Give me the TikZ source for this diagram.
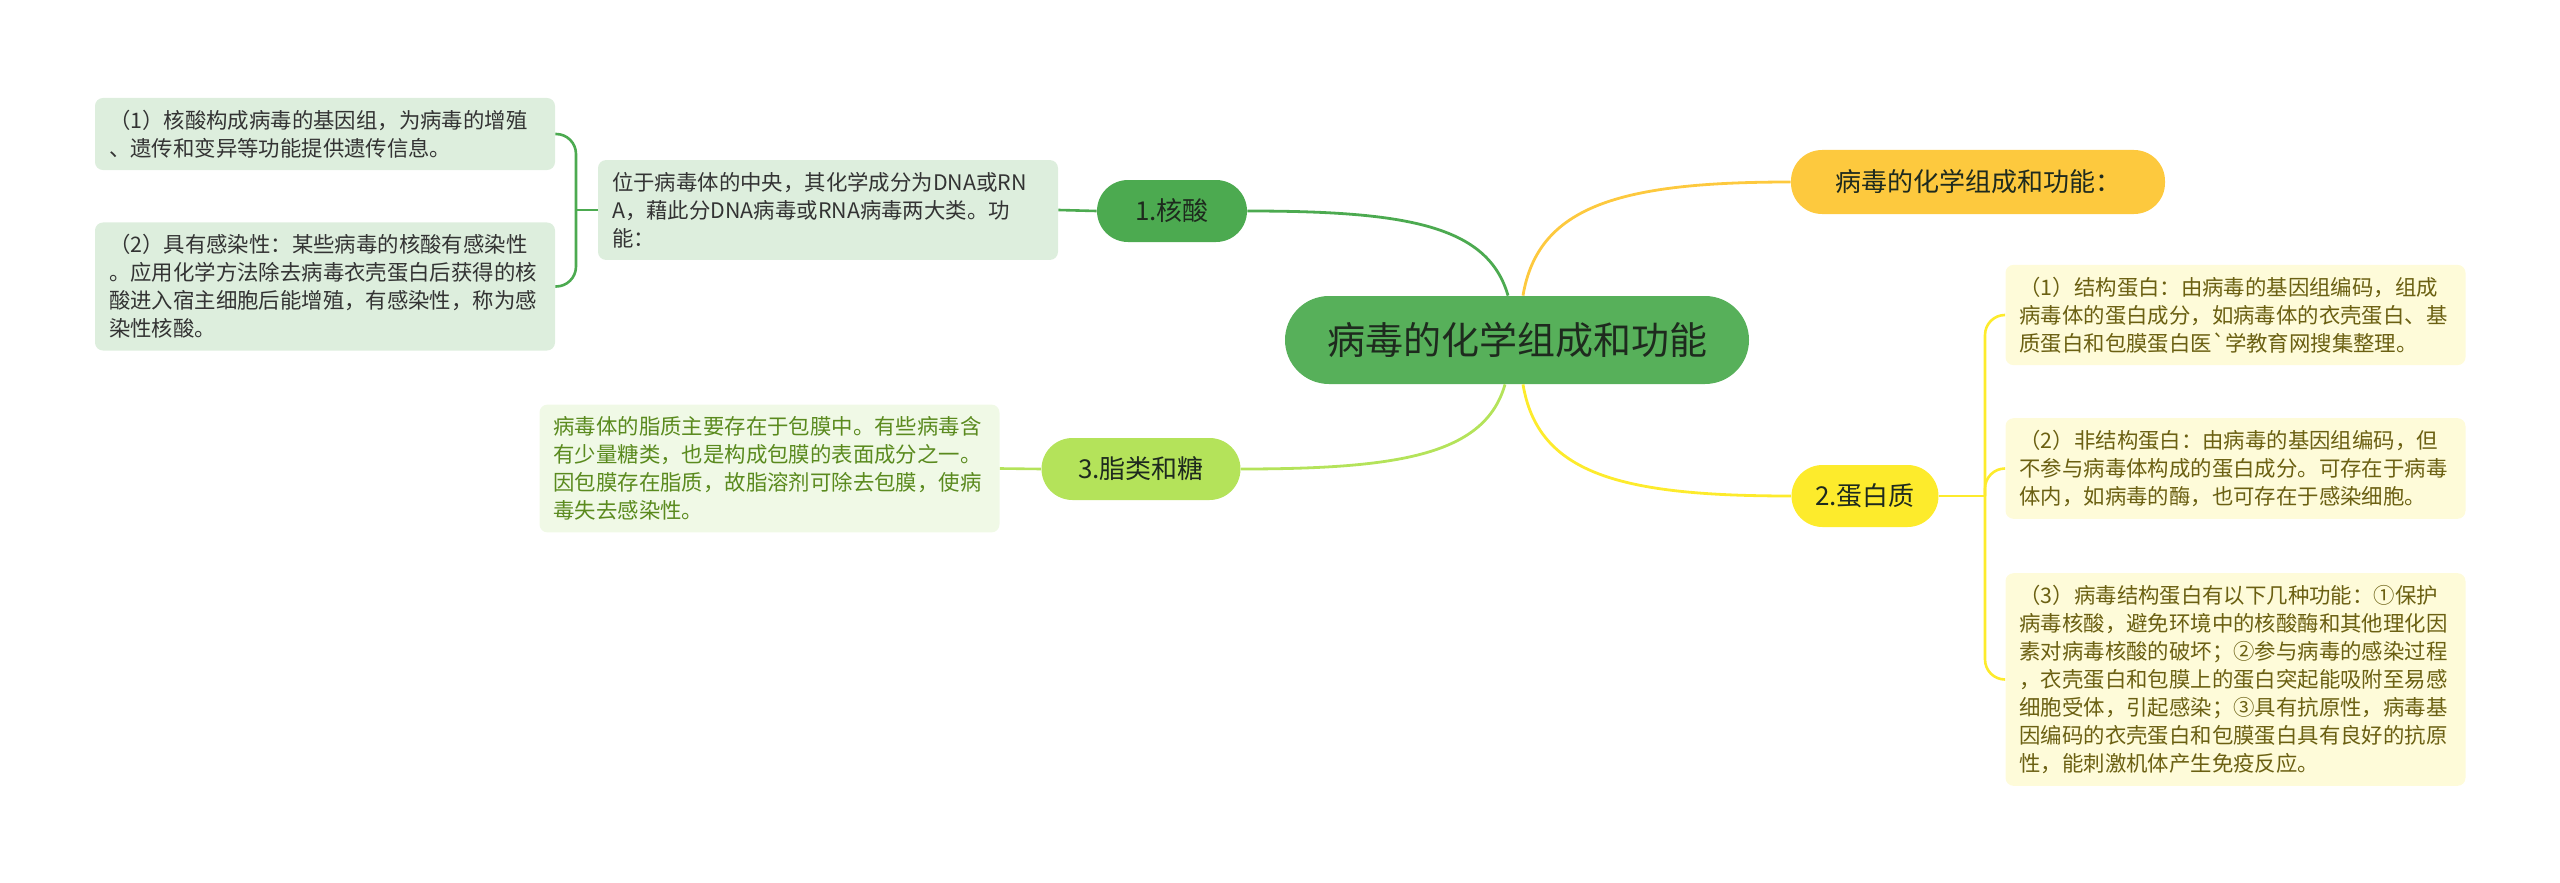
\documentclass[tikz,border=0pt]{standalone}
\usepackage{fontspec}
\setmainfont{Noto Sans CJK SC}[Ligatures=TeXOff]
\usepackage{tikz}

\definecolor{rootgreen}{HTML}{57B05A}
\definecolor{nucgreen}{HTML}{4CAA50}
\definecolor{lipidgreen}{HTML}{B4E35A}
\definecolor{titleorange}{HTML}{FDC93E}
\definecolor{protyellow}{HTML}{FDEB2C}
\definecolor{nucbox}{HTML}{DDEEDD}
\definecolor{lipidbox}{HTML}{F0F9E6}
\definecolor{protbox}{HTML}{FEFBD9}
\definecolor{lipidtext}{HTML}{5A8A1E}
\definecolor{prottext}{HTML}{6B6012}
\definecolor{darktext}{HTML}{1E2A1E}

\begin{document}
\begin{tikzpicture}[x=0.5pt,y=-0.5pt]

	\tikzstyle root node=[rounded corners=22pt, fill=rootgreen, text=darktext, minimum width=232pt, minimum height=44pt, font=\fontsize{19}{22}\selectfont];
	\tikzstyle main node=[rounded corners=15.5pt, text=darktext, minimum height=31pt, font=\fontsize{13}{16}\selectfont];
	\tikzstyle leaf box=[rounded corners=4pt, align=left, text width=216pt, inner xsep=7pt, inner ysep=6pt, font=\fontsize{10.7}{14}\selectfont];
	\tikzstyle branch lines=[line width=1.4pt];
	\tikzstyle fork lines=[line width=1.3pt, rounded corners=10pt];

	\useasboundingbox (0,0) rectangle (2560,883);

	\node[root node] (root) at (1517,340) {病毒的化学组成和功能};

	\node[main node, fill=nucgreen, minimum width=75pt] (nucleic) at (1172,211) {1.核酸};
	\node[main node, fill=lipidgreen, minimum width=99.5pt] (lipid) at (1141,469) {3.脂类和糖};
	\node[main node, fill=titleorange, minimum width=187pt, minimum height=32pt] (title) at (1978,182) {病毒的化学组成和功能：};
	\node[main node, fill=protyellow, minimum width=73.5pt] (protein) at (1865,496) {2.蛋白质};

	% nucleic acid
	\node[leaf box, fill=nucbox, text=black!80] (nucdesc) at (828,210) {位于病毒体的中央，其化学成分为DNA或RN\\A，藉此分DNA病毒或RNA病毒两大类。功\\能：};
	\node[leaf box, fill=nucbox, text=black!80] (nucbox1) at (325,134) {（1）核酸构成病毒的基因组，为病毒的增殖\\、遗传和变异等功能提供遗传信息。};
	\node[leaf box, fill=nucbox, text=black!80] (nucbox2) at (325,286.5) {（2）具有感染性：某些病毒的核酸有感染性\\。应用化学方法除去病毒衣壳蛋白后获得的核\\酸进入宿主细胞后能增殖，有感染性，称为感\\染性核酸。};

	% lipids and sugars
	\node[leaf box, fill=lipidbox, text=lipidtext] (lipiddesc) at (769.5,468.5) {病毒体的脂质主要存在于包膜中。有些病毒含\\有少量糖类，也是构成包膜的表面成分之一。\\因包膜存在脂质，故脂溶剂可除去包膜，使病\\毒失去感染性。};

	% proteins
	\node[leaf box, fill=protbox, text=prottext] (protbox1) at (2235.5,315) {（1）结构蛋白：由病毒的基因组编码，组成\\病毒体的蛋白成分，如病毒体的衣壳蛋白、基\\质蛋白和包膜蛋白医`学教育网搜集整理。};
	\node[leaf box, fill=protbox, text=prottext] (protbox2) at (2235.5,468.5) {（2）非结构蛋白：由病毒的基因组编码，但\\不参与病毒体构成的蛋白成分。可存在于病毒\\体内，如病毒的酶，也可存在于感染细胞。};
	\node[leaf box, fill=protbox, text=prottext] (protbox3) at (2235.5,679.5) {（3）病毒结构蛋白有以下几种功能：①保护\\病毒核酸，避免环境中的核酸酶和其他理化因\\素对病毒核酸的破坏；②参与病毒的感染过程\\，衣壳蛋白和包膜上的蛋白突起能吸附至易感\\细胞受体，引起感染；③具有抗原性，病毒基\\因编码的衣壳蛋白和包膜蛋白具有良好的抗原\\性，能刺激机体产生免疫反应。};

	\coordinate (nucfork) at (576,210);
	\coordinate (protfork) at (1985,496);

	\draw[branch lines, nucgreen] ([xshift=-4.5pt]root.north) .. controls +(-20,-70) and +(160,0) .. (nucleic.east);
	\draw[branch lines, titleorange] ([xshift=3pt]root.north) .. controls +(15,-90) and +(-170,0) .. (title.west);
	\draw[branch lines, lipidgreen] ([xshift=-6pt]root.south) .. controls +(-20,70) and +(160,0) .. (lipid.east);
	\draw[branch lines, protyellow] ([xshift=3pt]root.south) .. controls +(15,90) and +(-170,0) .. (protein.west);

	\draw[fork lines, nucgreen] (nucleic.west) -- (nucdesc.east);
	\draw[fork lines, nucgreen] (nucdesc.west) -- (nucfork);
	\foreach \b in {nucbox1,nucbox2}
		\draw[fork lines, nucgreen] (nucfork) |- (\b.east);

	\draw[fork lines, lipidgreen] (lipid.west) -- (lipiddesc.east);

	\draw[fork lines, protyellow] (protein.east) -- (protfork);
	\foreach \b in {protbox1,protbox2,protbox3}
		\draw[fork lines, protyellow] (protfork) |- (\b.west);

\end{tikzpicture}
\end{document}
